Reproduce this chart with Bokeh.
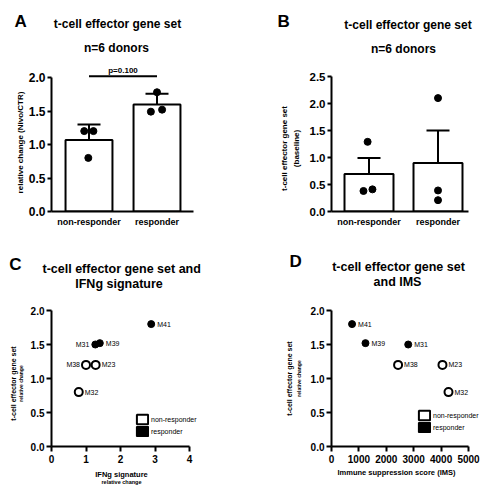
import numpy as np
from bokeh.plotting import figure
from bokeh.models import (Range1d, FixedTicker, SingleIntervalTicker, NumeralTickFormatter,
                          Label, Whisker, TeeHead, ColumnDataSource, Legend, LegendItem,
                          LinearAxis)
from bokeh.layouts import row, column
from bokeh.core.properties import value
from bokeh.embed import file_html
from bokeh.resources import INLINE

FONT = "Liberation Sans"

# ---------------- data ----------------
groups = ["non-responder", "responder"]
# Panel A: relative change (Nivo/CTR), mean +/- SD
a_nonresp = [1.20, 1.20, 0.80]
a_resp = [1.78, 1.49, 1.52]
a_pvalue = "p=0.100"
a_jit_nonresp = [-0.07, 0.065, -0.01]
a_jit_resp = [0.0, -0.09, 0.075]
# Panel B: baseline, mean +/- SEM
b_nonresp = [1.29, 0.38, 0.41]
b_resp = [2.10, 0.39, 0.21]
b_jit_nonresp = [-0.02, -0.08, 0.05]
b_jit_resp = [0.0, 0.0, 0.0]
# Panels C, D
donors = ["M41", "M31", "M39", "M38", "M23", "M32"]
is_responder = [True, True, True, False, False, False]
tcell = [1.80, 1.50, 1.52, 1.20, 1.20, 0.80]
ifng = [2.89, 1.27, 1.40, 1.00, 1.28, 0.79]
ims = [750, 2800, 1240, 2430, 4050, 4270]
c_label_side = ["right", "left", "right", "left", "right", "right"]
d_label_side = ["right"] * 6


class Panel:
    """Pixel geometry of one panel (page coordinates) -> bokeh figure."""

    def __init__(self, left, top, w, h, fl, fr, fb, xanchor_px, xanchor_val, xunit, yunit):
        self.left, self.top, self.w, self.h = left, top, w, h
        self.fl, self.fr, self.fb = fl, fr, fb
        self.xa_px, self.xa_val, self.xu, self.yu = xanchor_px, xanchor_val, xunit, yunit
        xr = Range1d(self.xval(fl), self.xval(fr))
        yr = Range1d(0, self.yval(top))
        p = figure(width=w, height=h, x_range=xr, y_range=yr, output_backend="svg",
                   toolbar_location=None, title=None,
                   min_border_left=fl - left, min_border_right=left + w - fr,
                   min_border_top=0, min_border_bottom=top + h - fb)
        p.grid.visible = False
        p.outline_line_color = None
        p.background_fill_color = "white"
        p.border_fill_color = "white"
        self.p = p

    def xval(self, px):
        return self.xa_val + (px - self.xa_px) / self.xu

    def yval(self, py):
        return (self.fb - py) / self.yu

    def label(self, X, Y, text, size, bold=True):
        self.p.add_layout(Label(x=X - self.fl, y=self.fb - Y, x_units="screen", y_units="screen",
                                text=text, text_align="center", text_baseline="middle",
                                text_font=FONT, text_font_size=size,
                                text_font_style="bold" if bold else "normal",
                                text_color="black"))

    def text_axis(self, side, pos, text, size, standoff, rotate=False, bold=True):
        pos = round(pos, 4)
        ax = LinearAxis(ticker=FixedTicker(ticks=[pos]), major_label_overrides={pos: text})
        ax.axis_line_color = None
        ax.major_tick_line_color = None
        ax.minor_tick_line_color = None
        ax.major_tick_in = 0
        ax.major_tick_out = 0
        ax.major_label_standoff = standoff
        ax.major_label_text_font = FONT
        ax.major_label_text_font_size = size
        ax.major_label_text_font_style = "bold" if bold else "normal"
        ax.major_label_text_color = "black"
        if rotate:
            ax.major_label_orientation = "parallel"
        self.p.add_layout(ax, side)

    def letter(self, X, Y, text):
        # left edge of a letter placed at page x = X, via a right-side text axis
        self.text_axis("right", self.yval(Y), text, "17px", int(round(X - self.fr)))


def style_axis(ax, size, out=4, standoff=2):
    ax.axis_line_width = 2
    ax.axis_line_color = "black"
    ax.major_tick_line_width = 2
    ax.major_tick_line_color = "black"
    ax.major_tick_in = 0
    ax.major_tick_out = out
    ax.minor_tick_line_color = None
    ax.major_label_text_font = FONT
    ax.major_label_text_font_style = "bold"
    ax.major_label_text_font_size = size
    ax.major_label_text_color = "black"
    ax.major_label_standoff = standoff


def bar_panel(P, nonresp, resp, jit_n, jit_r, err_kind, width, ymax, xbound_px):
    p = P.p
    idx = [1, 2]
    means = [float(np.mean(nonresp)), float(np.mean(resp))]
    sds = [float(np.std(nonresp, ddof=1)), float(np.std(resp, ddof=1))]
    if err_kind == "sem":
        errs = [sds[0] / np.sqrt(len(nonresp)), sds[1] / np.sqrt(len(resp))]
    else:
        errs = sds
    p.vbar(x=idx, top=means, bottom=0, width=width, fill_color="white",
           line_color="black", line_width=2)
    src = ColumnDataSource(dict(x=idx, lower=[m - e for m, e in zip(means, errs)],
                                upper=[m + e for m, e in zip(means, errs)]))
    p.add_layout(Whisker(source=src, base="x", lower="lower", upper="upper",
                         line_width=2, line_color="black",
                         upper_head=TeeHead(size=23, line_width=2, line_color="black"),
                         lower_head=TeeHead(size=23, line_width=2, line_color="black")))
    xs = [1 + j for j in jit_n] + [2 + j for j in jit_r]
    p.scatter(x=xs, y=list(nonresp) + list(resp), size=7, color="black")
    p.xaxis.ticker = FixedTicker(ticks=idx)
    p.xaxis.major_label_overrides = {1: groups[0], 2: groups[1]}
    p.xaxis.bounds = (P.xval(P.fl), P.xval(xbound_px))
    p.yaxis.formatter = NumeralTickFormatter(format="0.0")
    p.yaxis.ticker = SingleIntervalTicker(interval=0.5, num_minor_ticks=0)
    p.yaxis.bounds = (0, ymax)
    style_axis(p.xaxis[0], "9px", out=0, standoff=5)
    p.xaxis.major_tick_line_color = None


# ---------------- Panel A ----------------
A = Panel(0, 0, 250, 248, fl=51, fr=205, fb=211, xanchor_px=88.5, xanchor_val=1,
          xunit=68, yunit=67)
bar_panel(A, a_nonresp, a_resp, a_jit_nonresp, a_jit_resp, "sd", 0.69, 2.0, 193)
style_axis(A.p.yaxis[0], "12px", out=4, standoff=2)
A.p.segment(x0=[1], y0=[2.02], x1=[2], y1=[2.02], line_width=2, line_color="black")
A.p.text(x=[1.5], y=[2.1], text=[a_pvalue], text_align="center", text_baseline="middle",
         text_font=value(FONT), text_font_style="bold", text_font_size="8px",
         text_color="black")
A.label(117, 23.5, "t-cell effector gene set", "12px")
A.label(116, 47.5, "n=6 donors", "12px")
A.text_axis("left", A.yval(142), "relative change (Nivo/CTR)", "8px", 0, rotate=True)
A.letter(14, 21, "A")

# ---------------- Panel B ----------------
B = Panel(250, 0, 250, 248, fl=331, fr=484, fb=211, xanchor_px=368.5, xanchor_val=1,
          xunit=69, yunit=54)
bar_panel(B, b_nonresp, b_resp, b_jit_nonresp, b_jit_resp, "sem", 0.71, 2.5, 468)
style_axis(B.p.yaxis[0], "11.5px", out=4, standoff=2)
B.label(407.5, 24.5, "t-cell effector gene set", "12px")
B.label(403, 48, "n=6 donors", "12px")
B.text_axis("left", B.yval(148), "(baseline)", "8px", 5, rotate=True)
B.text_axis("left", B.yval(148), "t-cell effector gene set", "8px", 0, rotate=True)
B.letter(277, 21, "B")


# ---------------- scatter panels ----------------
def scatter_panel(P, xs, sides, loc, xmax):
    p = P.p
    ys = tcell
    xo = [x for x, r in zip(xs, is_responder) if not r]
    yo = [y for y, r in zip(ys, is_responder) if not r]
    xf = [x for x, r in zip(xs, is_responder) if r]
    yf = [y for y, r in zip(ys, is_responder) if r]
    p.scatter(x=xo, y=yo, size=8, fill_color="white", line_color="black", line_width=2)
    p.scatter(x=xf, y=yf, size=7, fill_color="black", line_color="black")
    for side, align, off in (("right", "left", 6), ("left", "right", -6)):
        sel = [i for i, s in enumerate(sides) if s == side]
        if sel:
            p.text(x=[xs[i] for i in sel], y=[ys[i] for i in sel],
                   text=[donors[i] for i in sel], x_offset=off, text_align=align,
                   text_baseline="middle", text_font=value(FONT), text_font_size="7px",
                   text_color="black")
    r_open = p.rect(x=[np.nan], y=[np.nan], width=1, height=1, fill_color="white",
                    line_color="black", line_width=2)
    r_fill = p.rect(x=[np.nan], y=[np.nan], width=1, height=1, fill_color="black",
                    line_color="black", line_width=2)
    leg = Legend(items=[LegendItem(label=groups[0], renderers=[r_open]),
                        LegendItem(label=groups[1], renderers=[r_fill])],
                 location=loc, glyph_width=14, glyph_height=12, label_height=12,
                 spacing=0, padding=0, margin=0, label_standoff=2,
                 border_line_color=None, background_fill_alpha=0,
                 label_text_font=FONT, label_text_font_size="7px",
                 label_text_color="black")
    p.add_layout(leg)
    p.yaxis.formatter = NumeralTickFormatter(format="0.0")
    p.yaxis.ticker = SingleIntervalTicker(interval=0.5, num_minor_ticks=0)
    p.yaxis.bounds = (0, 2)
    p.xaxis.bounds = (0, xmax)
    style_axis(p.yaxis[0], "10px", out=5, standoff=2)
    style_axis(p.xaxis[0], "10px", out=5, standoff=3)


# ---------------- Panel C ----------------
C = Panel(0, 248, 250, 247, fl=51, fr=205, fb=446, xanchor_px=51, xanchor_val=0,
          xunit=34.5, yunit=68)
scatter_panel(C, ifng, c_label_side, (84, 9), 4)
C.p.xaxis.ticker = SingleIntervalTicker(interval=1, num_minor_ticks=0)
C.text_axis("right", C.yval(268.7), "t-cell effector gene set and", "12.5px", 42 - 205)
C.label(118.5, 283.5, "IFNg signature", "12.5px")
C.text_axis("below", C.xval(121), "IFNg signature", "7.5px", 4)
C.text_axis("below", C.xval(121), "relative change", "5.5px", -3)
C.text_axis("left", C.yval(383), "relative change", "5px", 3, rotate=True)
C.text_axis("left", C.yval(383), "t-cell effector gene set", "7px", -2, rotate=True)
C.text_axis("left", C.yval(264), "C", "17px", -14)

# ---------------- Panel D ----------------
D = Panel(250, 248, 250, 247, fl=331, fr=484, fb=446, xanchor_px=331, xanchor_val=0,
          xunit=0.0274, yunit=68)
scatter_panel(D, ims, d_label_side, (86, 13), 5000)
D.p.xaxis.ticker = SingleIntervalTicker(interval=1000, num_minor_ticks=0)
D.label(398, 266.7, "t-cell effector gene set", "12.5px")
D.label(397, 281.7, "and IMS", "12.5px")
D.text_axis("below", D.xval(396), "Immune suppression score (IMS)", "7.5px", 2)
D.text_axis("left", D.yval(378), "relative change", "5px", 6, rotate=True)
D.text_axis("left", D.yval(378), "t-cell effector gene set", "7px", 0, rotate=True)
D.letter(289, 261, "D")

layout = column(row(A.p, B.p), row(C.p, D.p))
open("out.html", "w").write(file_html(layout, INLINE))
